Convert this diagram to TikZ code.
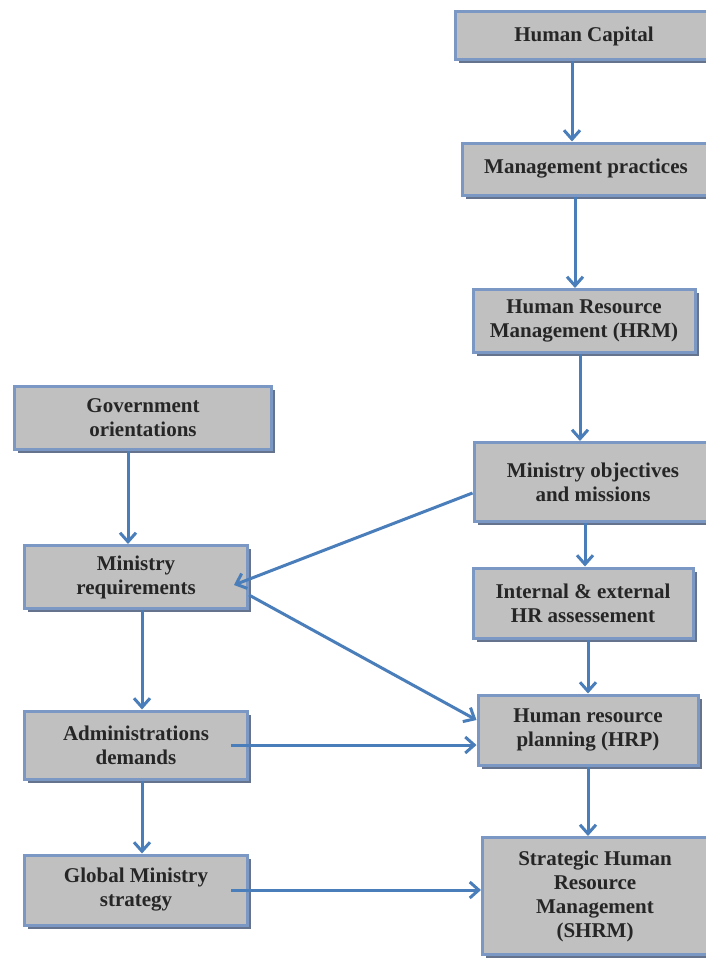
\documentclass[tikz,border=0pt]{standalone}
\usepackage{fontspec}
\setmainfont{Liberation Serif}
\usepackage{tikz}
\definecolor{hcblue}{HTML}{4A7EBB}
\definecolor{hcframe}{HTML}{7B97C4}
\definecolor{hcgray}{HTML}{C0C0C0}
\definecolor{hcshade}{HTML}{66738C}
\usetikzlibrary{arrows.meta, shadows}
\tikzset{
	fbox/.style={draw=hcframe, fill=hcgray, line width=3pt, align=center,
		font=\bfseries\fontsize{21}{24}\selectfont, inner sep=2pt, text=black!85,
		drop shadow={shadow xshift=3.5pt, shadow yshift=-3.5pt, fill=hcshade, opacity=1}},
	farr/.style={-{Straight Barb[length=9pt,width=16pt]}, line width=3pt, draw=hcblue}
}

\begin{document}
\begin{tikzpicture}[x=1pt, y=-1pt]
	\path[use as bounding box, fill=white] (0,0) rectangle (706,958);
	% right column
	\node[fbox, minimum width=258pt, minimum height=48pt] (hc) at (584,36) {Human Capital};
	\node[fbox, minimum width=248pt, minimum height=52pt] (mp) at (586,169) {Management practices};
	\node[fbox, minimum width=222pt, minimum height=63pt] (hrm) at (584,321) {Human Resource\\Management (HRM)};
	\node[fbox, minimum width=238pt, minimum height=79pt] (mo) at (593,482) {Ministry objectives\\and missions};
	\node[fbox, minimum width=220pt, minimum height=70pt] (ie) at (583,603) {Internal \& external\\HR assessement};
	\node[fbox, minimum width=220pt, minimum height=70pt] (hrp) at (588,730) {Human resource\\planning (HRP)};
	\node[fbox, minimum width=225pt, minimum height=117pt] (shrm) at (595,896) {Strategic Human\\Resource\\Management\\(SHRM)};
	% left column
	\node[fbox, minimum width=257pt, minimum height=63pt] (gov) at (143,418) {Government\\orientations};
	\node[fbox, minimum width=223pt, minimum height=63pt] (mr) at (136,577) {Ministry\\requirements};
	\node[fbox, minimum width=223pt, minimum height=68pt] (ad) at (136,745) {Administrations\\demands};
	\node[fbox, minimum width=223pt, minimum height=70pt] (gms) at (136,890) {Global Ministry\\strategy};
	% connectors
	\draw[farr] ([xshift=-12pt]hc.south) -- ([xshift=-12pt]hc.south |- mp.north);
	\draw[farr] ([xshift=-11pt]mp.south) -- ([xshift=-11pt]mp.south |- hrm.north);
	\draw[farr] ([xshift=-4pt]hrm.south) -- ([xshift=-4pt]hrm.south |- mo.north);
	\draw[farr] ([xshift=-8pt]mo.south) -- ([xshift=-8pt]mo.south |- ie.north);
	\draw[farr] ([xshift=5pt]ie.south) -- ([xshift=5pt]ie.south |- hrp.north);
	\draw[farr] (hrp.south) -- (hrp.south |- shrm.north);
	\draw[farr] ([xshift=-15pt]gov.south) -- ([xshift=-15pt]gov.south |- mr.north);
	\draw[farr] ([xshift=6pt]mr.south) -- ([xshift=6pt]mr.south |- ad.north);
	\draw[farr] ([xshift=6pt]ad.south) -- ([xshift=6pt]ad.south |- gms.north);
	\draw[farr] ([yshift=-11pt]mo.west) -- ([xshift=-15pt, yshift=-8pt]mr.east);
	\draw[farr] ([yshift=-18pt]mr.east) -- ([yshift=10pt]hrp.west);
	\draw[farr] ([xshift=-18pt]ad.east) -- (ad.east -| hrp.west);
	\draw[farr] ([xshift=-18pt]gms.east) -- (gms.east -| shrm.west);
\end{tikzpicture}
\end{document}
